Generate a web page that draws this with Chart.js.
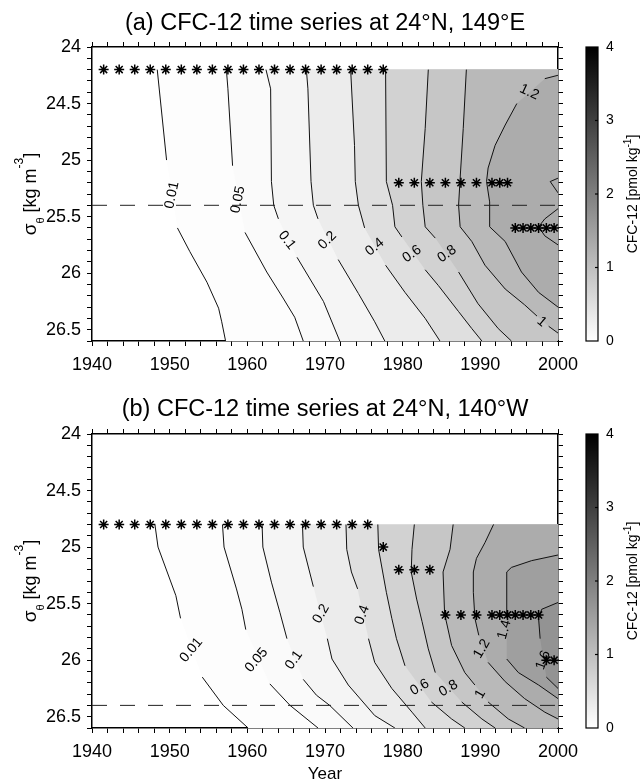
<!DOCTYPE html>
<html>
<head>
<meta charset="utf-8">
<title>CFC-12 time series</title>
<script src="https://cdn.jsdelivr.net/npm/chart.js@4.4.1/dist/chart.umd.min.js"></script>
<style>
  body { margin: 0; background: #fff; }
  canvas { display: block; }
</style>
</head>
<body>
<canvas id="panelA" width="641" height="391"></canvas>
<canvas id="panelB" width="641" height="392"></canvas>
<script>
const yearMin = 1940, yearMax = 2000, sigMin = 24, sigMax = 26.6;

// ---- (a) 24N, 149E ----
const levelsA = [0.01, 0.05, 0.1, 0.2, 0.4, 0.6, 0.8, 1, 1.2];
// contour lines as [year, sigma]; null = break where the label sits
const a001 = [[1948.4,24.2],[1949.6,25.0],null,[1951.0,25.6],[1952.6,25.81],[1954.8,26.08],[1956.3,26.31],[1956.7,26.43],[1957.2,26.6]];
const a005 = [[1957.3,24.2],[1957.5,24.37],[1958.1,25.05],null,[1959.7,25.64],[1962.5,25.99],[1964.6,26.22],[1966.1,26.39],[1967.2,26.6]];
const a01  = [[1962.4,24.2],[1963.0,24.37],[1963.1,25.19],[1963.4,25.4],[1964.0,25.52],null,[1966.4,25.86],[1969.8,26.25],[1971.9,26.6]];
const a02  = [[1967.6,24.2],[1967.8,24.37],[1968.2,25.19],[1968.5,25.4],[1969.1,25.52],null,[1971.7,25.88],[1974.3,26.18],[1976.4,26.43],[1977.7,26.6]];
const a04  = [[1973.3,24.2],[1973.8,24.87],[1973.9,25.19],[1974.3,25.4],[1975.1,25.6],null,[1977.8,25.93],[1980.3,26.17],[1982.9,26.4],[1984.8,26.6]];
const a06  = [[1977.8,24.2],[1977.9,25.19],[1978.7,25.4],[1979.0,25.59],[1979.9,25.68],null,[1982.9,25.97],[1984.6,26.11],[1987.2,26.34],[1988.9,26.49],[1990.2,26.6]];
const a08  = [[1983.3,24.2],[1982.9,24.72],[1982.4,25.19],[1982.6,25.4],[1982.9,25.59],[1984.2,25.69],null,[1987.2,25.99],[1989.7,26.27],[1992.3,26.49],[1994.0,26.6]];
const a10  = [[1988.2,24.2],[1987.8,24.72],[1987.4,25.16],[1987.2,25.4],[1987.4,25.59],[1988.9,25.72],[1990.6,25.93],[1993.2,26.14],[1995.7,26.28],[1997.3,26.38],null,[1998.8,26.47],[2000,26.53]];
const a12  = [[2000,24.25],[1998.3,24.28],null,[1994.7,24.5],[1993.2,24.69],[1991.9,24.87],[1991.0,25.07],[1990.8,25.19],[1991.2,25.37],[1991.2,25.59],[1993.2,25.72],[1995.3,25.99],[1997.5,26.17],[2000,26.3]];
const aEdge1 = [[2000,25.16],[1999.0,25.19],[2000,25.29]];
const aEdge2 = [[2000,25.43],[1998.3,25.52],[1997.5,25.59],[1998.3,25.67],[2000,25.75]];

const labelTextA = ['0.01', '0.05', '0.1', '0.2', '0.4', '0.6', '0.8', '1', '1.2'];
const labelYearA = [1950.3, 1958.8, 1965.1, 1970.3, 1976.4, 1981.2, 1985.7, 1997.9, 1996.3];
const labelSigA  = [25.31, 25.35, 25.71, 25.71, 25.77, 25.83, 25.83, 26.43, 24.40];

const starSigA = [24.2, 25.2, 25.6];
const starYearsA = [
  [1941.5, 1943.5, 1945.5, 1947.5, 1949.5, 1951.5, 1953.5, 1955.5, 1957.5, 1959.5, 1961.5, 1963.5, 1965.5, 1967.5, 1969.5, 1971.5, 1973.5, 1975.5, 1977.5],
  [1979.5, 1981.5, 1983.5, 1985.5, 1987.5, 1989.5, 1991.5, 1992.5, 1993.5],
  [1994.5, 1995.5, 1996.5, 1997.5, 1998.5, 1999.5]
];
const dashSigA = 25.4;

// ---- (b) 24N, 140W ----
const levelsB = [0.01, 0.05, 0.1, 0.2, 0.4, 0.6, 0.8, 1, 1.2, 1.4, 1.6];
const b001 = [[1948.1,24.8],[1948.5,25.0],[1950.8,25.43],[1951.4,25.63],null,[1954.2,26.15],[1956.9,26.4],[1960.1,26.6]];
const b005 = [[1956.8,24.8],[1957.0,25.0],[1958.6,25.37],[1959.3,25.55],[1959.8,25.73],null,[1962.9,26.21],[1965.5,26.4],[1969.1,26.6]];
const b01  = [[1961.9,24.8],[1962.0,25.0],[1963.1,25.31],[1964.2,25.58],[1965.1,25.81],null,[1967.2,26.17],[1968.9,26.31],[1970.6,26.4],[1973.6,26.6]];
const b02  = [[1967.1,24.8],[1967.2,25.0],[1968.5,25.35],null,[1970.3,25.81],[1970.9,25.99],[1973.0,26.22],[1976.4,26.49],[1979.0,26.6]];
const b04  = [[1972.7,24.8],[1972.8,25.02],[1973.4,25.22],[1974.2,25.37],null,[1975.6,25.81],[1976.4,26.02],[1978.6,26.25],[1981.2,26.46],[1982.9,26.6]];
const b06  = [[1976.8,24.8],[1976.9,25.02],[1977.9,25.4],[1978.6,25.63],[1979.2,25.81],[1980.3,26.05],null,[1983.7,26.37],[1986.3,26.52],[1988.0,26.6]];
const b08  = [[1981.5,24.8],[1981.2,25.02],[1981.1,25.22],[1981.8,25.46],[1982.5,25.66],[1983.3,25.9],[1984.2,26.11],null,[1987.6,26.37],[1990.2,26.52],[1991.9,26.6]];
const b10  = [[1986.5,24.8],[1986.1,25.02],[1985.2,25.22],[1985.4,25.59],[1986.3,25.87],[1988.0,26.11],[1989.3,26.22],null,[1991.0,26.37],[1993.6,26.52],[1995.7,26.6]];
const b12  = [[1991.7,24.8],[1990.6,24.96],[1989.5,25.1],[1989.1,25.22],[1989.1,25.4],[1989.3,25.63],[1989.8,25.78],null,[1991.0,26.02],[1993.2,26.19],[1995.7,26.34],[1998.3,26.46],[2000,26.52]];
const b14  = [[2000,25.07],[1996.6,25.12],[1994.0,25.18],[1993.4,25.22],[1993.4,25.63],null,[1993.4,25.99],[1994.9,26.11],[1997.5,26.22],[2000,26.34]];
const b16  = [[2000,25.49],[1997.9,25.55],[1997.5,25.63],[1997.7,25.81],null,[1998.5,26.15],[2000,26.25]];

const labelTextB = ['0.01', '0.05', '0.1', '0.2', '0.4', '0.6', '0.8', '1', '1.2', '1.4', '1.6'];
const labelYearB = [1952.8, 1961.2, 1966.0, 1969.5, 1974.8, 1982.2, 1985.9, 1990.0, 1990.2, 1993.1, 1998.1];
const labelSigB  = [25.91, 26.0, 26.0, 25.59, 25.6, 26.24, 26.25, 26.3, 25.9, 25.73, 26.0];

const starSigB = [24.8, 25.0, 25.2, 25.6, 26.0];
const starYearsB = [
  [1941.5, 1943.5, 1945.5, 1947.5, 1949.5, 1951.5, 1953.5, 1955.5, 1957.5, 1959.5, 1961.5, 1963.5, 1965.5, 1967.5, 1969.5, 1971.5, 1973.5, 1975.5],
  [1977.5],
  [1979.5, 1981.5, 1983.5],
  [1985.5, 1987.5, 1989.5, 1991.5, 1992.5, 1993.5, 1994.5, 1995.5, 1996.5, 1997.5],
  [1998.5, 1999.5]
];
const dashSigB = 26.4;

// label rotations (degrees), same order as the label arrays
const angleA = [-78, -78, 52, -45, -40, -35, -35, 40, 25];
const angleB = [-50, -50, -55, -60, -70, -30, -30, -60, -60, -75, -70];

const FONT = "'Liberation Sans', Arial, Helvetica, sans-serif";
Chart.defaults.font.family = FONT;
Chart.defaults.color = '#000';

// solid line, but keeps chart.js off its pixel-merging fast path
const SOLID = [10000, 0];

// white (0) to black (4) like the colour bar
function shade(v) {
  const g = Math.round(255 * (1 - Math.min(v, 4) / 4));
  return 'rgb(' + g + ',' + g + ',' + g + ')';
}

function toPoints(c) {
  return c.map(p => p ? { x: p[0], y: p[1] } : { x: null, y: null });
}

// closed shape: contour, then along the right edge back to its start
function fillShape(c) {
  const pts = c.filter(p => p).map(p => ({ x: p[0], y: p[1] }));
  const first = pts[0], last = pts[pts.length - 1];
  pts.push({ x: yearMax, y: last.y }, { x: yearMax, y: first.y });
  return pts;
}

function buildDatasets(levels, lines, extras, starSig, starYears, dashSig) {
  const ds = [];
  lines.forEach((c, i) => {
    const top = i + 1 < levels.length ? levels[i + 1] : levels[i] + 0.2;
    ds.push({
      data: fillShape(c), fill: 'shape', backgroundColor: shade((levels[i] + top) / 2),
      borderWidth: 0, borderDash: SOLID, pointRadius: 0, order: 100 - i
    });
  });
  lines.concat(extras).forEach(c => {
    ds.push({ data: toPoints(c), borderColor: '#111', borderWidth: 1, borderDash: SOLID, pointRadius: 0, fill: false, order: 10 });
  });
  ds.push({
    data: [{ x: yearMin, y: dashSig }, { x: yearMax, y: dashSig }],
    borderColor: '#222', borderWidth: 1, borderDash: [15, 13], pointRadius: 0, fill: false, order: 5
  });
  starYears.forEach((row, i) => {
    ds.push({
      data: row.map(yr => ({ x: yr, y: starSig[i] })), showLine: false,
      pointStyle: 'star', pointRadius: 5, pointBorderColor: '#000', pointBorderWidth: 1.5,
      pointBackgroundColor: '#000', clip: false, order: 0
    });
  });
  return ds;
}

function richText(ctx, parts, x, y) {
  ctx.save();
  ctx.translate(x, y);
  ctx.rotate(-Math.PI / 2);
  ctx.textAlign = 'left';
  ctx.textBaseline = 'alphabetic';
  ctx.fillStyle = '#000';
  let w = 0;
  parts.forEach(p => { ctx.font = p[1] + 'px ' + FONT; w += ctx.measureText(p[0]).width; });
  let cx = -w / 2;
  parts.forEach(p => {
    ctx.font = p[1] + 'px ' + FONT;
    ctx.fillText(p[0], cx, p[2]);
    cx += ctx.measureText(p[0]).width;
  });
  ctx.restore();
}

function makeDecor(texts, years, sigs, angles) {
  return {
    id: 'decor',
    afterDatasetsDraw(chart) {
      const { ctx, scales } = chart;
      ctx.save();
      ctx.font = '14px ' + FONT;
      ctx.fillStyle = '#000';
      ctx.textAlign = 'center';
      ctx.textBaseline = 'middle';
      texts.forEach((t, i) => {
        ctx.save();
        ctx.translate(scales.x.getPixelForValue(years[i]), scales.y.getPixelForValue(sigs[i]));
        ctx.rotate(angles[i] * Math.PI / 180);
        ctx.fillText(t, 0, 0);
        ctx.restore();
      });
      ctx.restore();
    },
    afterDraw(chart) {
      const { ctx, chartArea, scales: { cb } } = chart;
      const top = cb.getPixelForValue(4), bot = cb.getPixelForValue(0);
      const x1 = cb.left, x0 = x1 - 12;
      const g = ctx.createLinearGradient(0, bot, 0, top);
      g.addColorStop(0, shade(0));
      g.addColorStop(1, shade(4));
      ctx.save();
      ctx.fillStyle = g;
      ctx.fillRect(x0, top, 12, bot - top);
      ctx.strokeStyle = '#000';
      ctx.lineWidth = 1.2;
      ctx.strokeRect(x0, top, 12, bot - top);
      cb.ticks.forEach(t => {
        if (t.value > 0 && t.value < 4) {
          const yy = cb.getPixelForValue(t.value);
          ctx.beginPath();
          ctx.moveTo(x1 - 3, yy);
          ctx.lineTo(x1, yy);
          ctx.stroke();
        }
      });
      ctx.restore();
      richText(ctx, [['CFC-12 [pmol kg', 14, 0], ['-1', 10, -6], [']', 14, 0]], 637, (top + bot) / 2);
      richText(ctx, [['\u03c3', 19, 0], ['\u03b8', 11, 8], [' [kg m', 18, 0], ['-3', 12, -13], [']', 18, 0]],
        36, (chartArea.top + chartArea.bottom) / 2);
    }
  };
}

function tickGrid() {
  return { drawOnChartArea: false, drawTicks: true, tickLength: 5, tickColor: '#000', tickWidth: 1 };
}
function edge() {
  return { display: true, color: '#000', width: 1.5 };
}

function makeScales(bottomH, xTitle) {
  return {
    x: {
      type: 'linear', position: 'bottom', min: yearMin, max: yearMax,
      ticks: { stepSize: 2, autoSkip: false, maxRotation: 0, padding: 8, color: '#000', font: { size: 18 },
        callback: v => (v % 10 === 0 ? String(v) : '') },
      grid: tickGrid(), border: edge(),
      title: { display: !!xTitle, text: xTitle || '', color: '#000', font: { size: 17 }, padding: { top: 0, bottom: -2 } },
      afterFit: s => { s.height = bottomH; }
    },
    xT: {
      type: 'linear', position: 'top', min: yearMin, max: yearMax,
      ticks: { stepSize: 2, autoSkip: false, maxRotation: 0, callback: () => '' },
      grid: tickGrid(), border: edge(),
      afterFit: s => { s.height = 7; }
    },
    y: {
      type: 'linear', position: 'left', reverse: true, min: sigMin, max: sigMax,
      ticks: { stepSize: 0.1, autoSkip: false, padding: 6, color: '#000', font: { size: 18 },
        callback: v => (Math.round(v * 10) % 5 === 0 ? String(v) : '') },
      grid: tickGrid(), border: edge(),
      afterFit: s => { s.width = 92; }
    },
    yR: {
      type: 'linear', position: 'right', reverse: true, min: sigMin, max: sigMax,
      ticks: { stepSize: 0.1, autoSkip: false, callback: () => '' },
      grid: tickGrid(), border: edge(),
      afterFit: s => { s.width = 40; }
    },
    cb: {
      type: 'linear', position: 'right', min: 0, max: 4, weight: 1,
      ticks: { stepSize: 1, padding: 8, color: '#000', font: { size: 14 } },
      grid: { drawOnChartArea: false, drawTicks: false }, border: { display: false },
      afterFit: s => { s.width = 43; }
    }
  };
}

function makeChart(id, title, titlePad, bottomH, xTitle, datasets, decor) {
  return new Chart(document.getElementById(id), {
    type: 'line',
    data: { datasets: datasets },
    options: {
      responsive: false,
      animation: false,
      events: [],
      layout: { padding: 0 },
      scales: makeScales(bottomH, xTitle),
      plugins: {
        legend: { display: false },
        tooltip: { enabled: false },
        filler: { drawTime: 'beforeDatasetsDraw' },
        title: { display: true, text: title, color: '#000', fullSize: false,
          font: { size: 23.5, weight: 'normal' }, padding: titlePad }
      }
    },
    plugins: [decor]
  });
}

makeChart('panelA', '(a) CFC-12 time series at 24\u00b0N, 149\u00b0E', { top: 9.2, bottom: 2.6 }, 50, '',
  buildDatasets(levelsA, [a001, a005, a01, a02, a04, a06, a08, a10, a12], [aEdge1, aEdge2], starSigA, starYearsA, dashSigA),
  makeDecor(labelTextA, labelYearA, labelSigA, angleA));

makeChart('panelB', '(b) CFC-12 time series at 24\u00b0N, 140\u00b0W', { top: 4.4, bottom: 3.4 }, 55, 'Year',
  buildDatasets(levelsB, [b001, b005, b01, b02, b04, b06, b08, b10, b12, b14, b16], [], starSigB, starYearsB, dashSigB),
  makeDecor(labelTextB, labelYearB, labelSigB, angleB));
</script>
</body>
</html>
